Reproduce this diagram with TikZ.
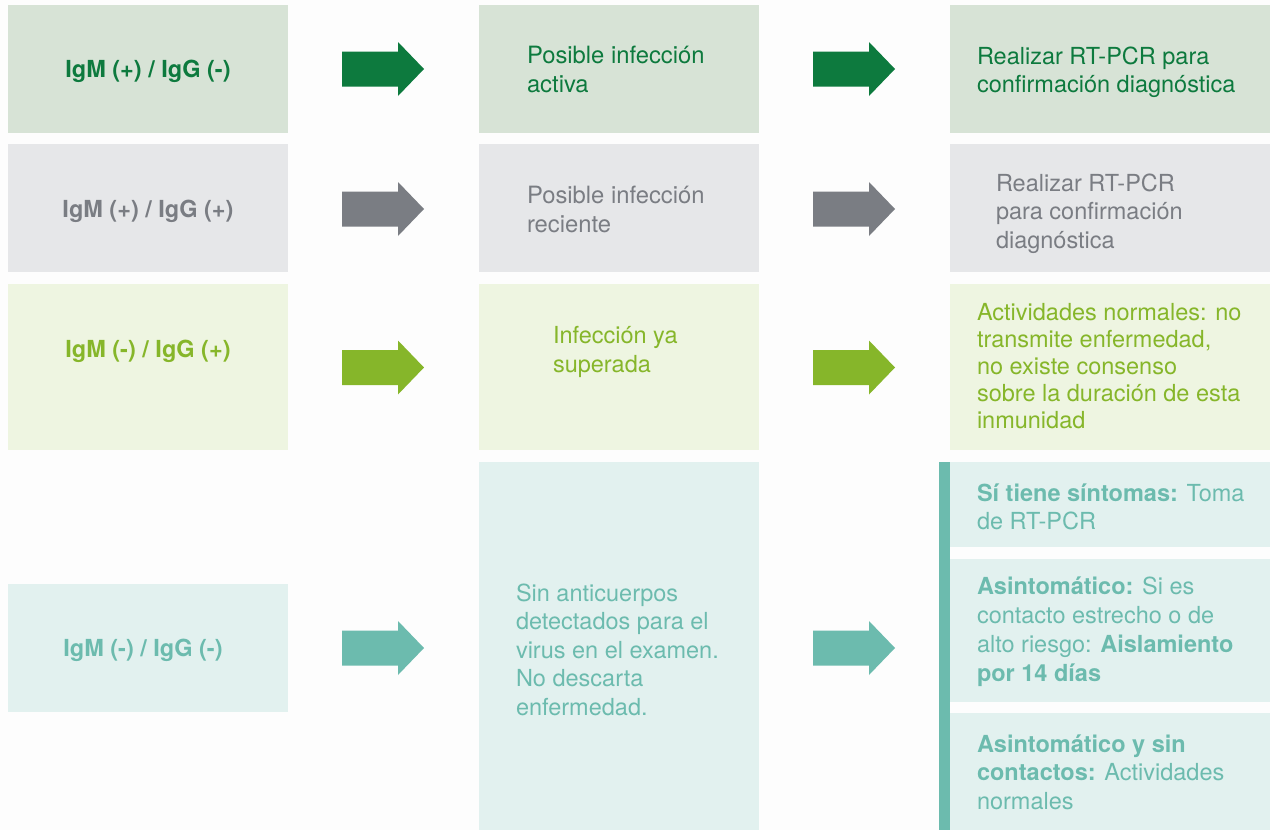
\documentclass[tikz,border=0pt]{standalone}
\usepackage{fontspec}
\setmainfont{TeX Gyre Heros}
\definecolor{pagebg}{HTML}{FDFDFD}
\definecolor{bgA}{HTML}{D7E3D6}
\definecolor{fgA}{HTML}{0D7A3E}
\definecolor{bgB}{HTML}{E6E7E9}
\definecolor{fgB}{HTML}{7A7D83}
\definecolor{bgC}{HTML}{EEF5E1}
\definecolor{fgC}{HTML}{86B62A}
\definecolor{bgD}{HTML}{E2F1EF}
\definecolor{fgD}{HTML}{6CBBAE}
\tikzset{
  box/.style={draw=none, inner sep=0pt, outer sep=0pt},
  txt/.style={inner sep=0pt, outer sep=0pt, align=left, anchor=west, font=\fontsize{23.5}{28.5}\selectfont},
  ctxt/.style={inner sep=0pt, outer sep=0pt, align=center, font=\bfseries\fontsize{23.5}{28.5}\selectfont},
  blockarrow/.pic={\fill (0,-17.5) -- (56,-17.5) -- (56,-27) -- (82,0) -- (56,27) -- (56,17.5) -- (0,17.5) -- cycle;}
}
\begin{document}
\begin{tikzpicture}[x=1pt,y=-1pt]
\fill[pagebg] (0,0) rectangle (1270,830);
\useasboundingbox (0,0) rectangle (1270,830);
% column 1 boxes
\node[box, fill=bgA, minimum width=280, minimum height=128] (a1) at (148,69) {};
\node[box, fill=bgB, minimum width=280, minimum height=128] (b1) at (148,208) {};
\node[box, fill=bgC, minimum width=280, minimum height=166] (c1) at (148,367) {};
\node[box, fill=bgD, minimum width=280, minimum height=128] (d1) at (148,648) {};
% column 2 boxes
\node[box, fill=bgA, minimum width=280, minimum height=128] (a2) at (619,69) {};
\node[box, fill=bgB, minimum width=280, minimum height=128] (b2) at (619,208) {};
\node[box, fill=bgC, minimum width=280, minimum height=166] (c2) at (619,367) {};
\node[box, fill=bgD, minimum width=280, minimum height=368] (d2) at (619,646) {};
% column 3 boxes
\node[box, fill=bgA, minimum width=320, minimum height=128] (a3) at (1110,69) {};
\node[box, fill=bgB, minimum width=320, minimum height=128] (b3) at (1110,208) {};
\node[box, fill=bgC, minimum width=320, minimum height=166] (c3) at (1110,367) {};
\node[box, fill=bgD, minimum width=320, minimum height=85] (d3a) at (1110,504.5) {};
\node[box, fill=bgD, minimum width=320, minimum height=143] (d3b) at (1110,630.5) {};
\node[box, fill=bgD, minimum width=320, minimum height=117] (d3c) at (1110,771.5) {};
\node[box, fill=fgD, minimum width=11, minimum height=368] (bar) at (944.5,646) {};
% arrows
\pic[color=fgA] at (342,69) {blockarrow};
\pic[color=fgA] at (813,69) {blockarrow};
\pic[color=fgB] at (342,209) {blockarrow};
\pic[color=fgB] at (813,209) {blockarrow};
\pic[color=fgC] at (342,367.5) {blockarrow};
\pic[color=fgC] at (813,367.5) {blockarrow};
\pic[color=fgD] at (342,648) {blockarrow};
\pic[color=fgD] at (813,648) {blockarrow};
% column 1 texts
\node[ctxt, text=fgA] (ta1) at (148,71) {IgM (+) / IgG (-)};
\node[ctxt, text=fgB] (tb1) at (148,211) {IgM (+) / IgG (+)};
\node[ctxt, text=fgC] (tc1) at (148,351) {IgM (-) / IgG (+)};
\node[ctxt, text=fgD] (td1) at (143,650) {IgM (-) / IgG (-)};
% column 2 texts
\node[txt, text=fgA, font=\fontsize{23.8}{28.5}\selectfont] (ta2) at (527,69.5) {Posible infección\\activa};
\node[txt, text=fgB, font=\fontsize{23.8}{28.5}\selectfont] (tb2) at (527,209.5) {Posible infección\\reciente};
\node[txt, text=fgC] (tc2) at (553,352) {Infección ya\\superada};
\node[txt, text=fgD] (td2) at (516,649.5) {Sin anticuerpos\\detectados para el\\virus en el examen.\\No descarta\\enfermedad.};
% column 3 texts
\node[txt, text=fgA] (ta3) at (977,72.5) {Realizar RT-PCR para\\confirmación diagnóstica};
\node[txt, text=fgB] (tb3) at (996,213.5) {Realizar RT-PCR\\para confirmación\\diagnóstica};
\node[txt, text=fgC, font=\fontsize{23.5}{27}\selectfont] (tc3) at (977,366) {Actividades normales: no\\transmite enfermedad,\\no existe consenso\\sobre la duración de esta\\inmunidad};
\node[txt, text=fgD] (td3a) at (977,507) {\textbf{Sí tiene síntomas:} Toma\\de RT-PCR};
\node[txt, text=fgD, font=\fontsize{23.5}{29}\selectfont] (td3b) at (977,632) {\textbf{Asintomático:} Si es\\contacto estrecho o de\\alto riesgo: \textbf{Aislamiento}\\\textbf{por 14 días}};
\node[txt, text=fgD] (td3c) at (977,772) {\textbf{Asintomático y sin}\\\textbf{contactos:} Actividades\\normales};
\end{tikzpicture}
\end{document}
